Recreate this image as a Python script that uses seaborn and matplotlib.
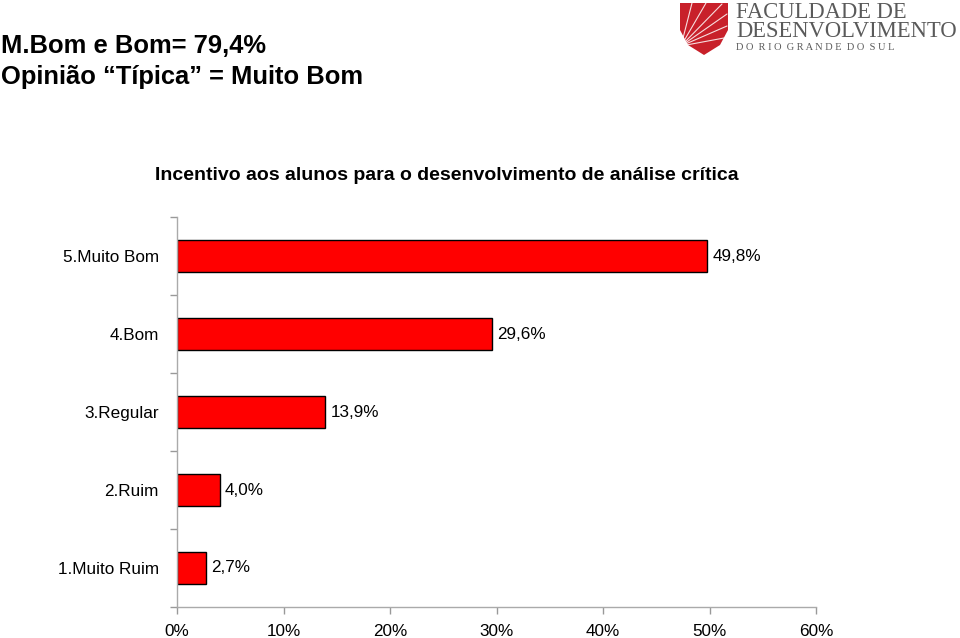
import matplotlib
matplotlib.use("Agg")
import matplotlib.pyplot as plt
import seaborn as sns
import pandas as pd
from matplotlib.patches import Polygon
from matplotlib.lines import Line2D
from matplotlib.ticker import FixedLocator

categories = ["5.Muito Bom", "4.Bom", "3.Regular", "2.Ruim", "1.Muito Ruim"]
values = [49.8, 29.6, 13.9, 4.0, 2.7]
xticks = [0, 10, 20, 30, 40, 50, 60]
title = "Incentivo aos alunos para o desenvolvimento de análise crítica"
header1 = "M.Bom e Bom= 79,4%"
header2 = "Opinião \u201cTípica\u201d = Muito Bom"

df = pd.DataFrame({"cat": categories, "val": values})

sns.set_style("white")
plt.rcParams["font.family"] = ["Liberation Sans", "DejaVu Sans"]
plt.rcParams["text.color"] = "black"
plt.rcParams["xtick.color"] = "#999999"
plt.rcParams["ytick.color"] = "#999999"
plt.rcParams["xtick.labelcolor"] = "black"
plt.rcParams["ytick.labelcolor"] = "black"

fig = plt.figure(figsize=(9.6, 6.38), dpi=100)
ax = fig.add_axes([177/960, 1-607/638, (816-177)/960, (607-217)/638])

sns.barplot(data=df, x="val", y="cat", orient="h", color="#FF0000",
            edgecolor="black", linewidth=1.0, width=0.41, ax=ax, saturation=1)

ax.set_xlim(0, 60)
ax.set_ylim(4.5, -0.5)
ax.set_xticks(xticks)
ax.set_xticklabels([f"{t}%" for t in xticks], fontsize=12.3)
ax.set_xlabel("")
ax.set_ylabel("")
ax.tick_params(axis="y", which="major", length=0, labelsize=12.3, pad=13, left=True)
ax.yaxis.set_minor_locator(FixedLocator([-0.5, 0.5, 1.5, 2.5, 3.5, 4.5]))
ax.tick_params(axis="y", which="minor", length=5, width=1, direction="out", left=True)
ax.tick_params(axis="x", which="major", length=5, width=1, direction="out", pad=7, bottom=True)

for s in ["top", "right"]:
    ax.spines[s].set_visible(False)
for s in ["left", "bottom"]:
    ax.spines[s].set_color("#AAAAAA")
    ax.spines[s].set_linewidth(1.0)

for i, v in enumerate(values):
    ax.text(v + 0.5, i, f"{v:.1f}%".replace(".", ","), va="center", ha="left", fontsize=12.3)

fig.text(447/960, 1-176/638, title, ha="center", va="center", fontsize=14, fontweight="bold")
fig.text(1/960, 1-46/638, header1, ha="left", va="center", fontsize=18.4, fontweight="bold")
fig.text(1/960, 1-77/638, header2, ha="left", va="center", fontsize=18.4, fontweight="bold")

# Logo
def fx(px):
    return px / 960
def fy(py):
    return 1 - py / 638

shield = Polygon([(fx(680), fy(3)), (fx(728), fy(3)), (fx(728), fy(30)),
                  (fx(720), fy(45)), (fx(704), fy(55)), (fx(688), fy(45)),
                  (fx(680), fy(30))], closed=True, transform=fig.transFigure,
                 facecolor="#C8202A", edgecolor="none")
fig.patches.append(shield)
for (ex, ey) in [(692, 3), (706, 3), (722, 4), (727, 14), (727, 26), (724, 38)]:
    fig.lines.append(Line2D([fx(681), fx(ex)], [fy(46), fy(ey)], transform=fig.transFigure,
                            color="white", linewidth=0.8, alpha=0.85))
fig.text(fx(736), fy(2), "FACULDADE DE\nDESENVOLVIMENTO", ha="left", va="top", fontsize=16.3,
         family="Liberation Serif", color="#5A5A5A", linespacing=0.9)
fig.text(fx(736), fy(47), "D O  R I O  G R A N D E  D O  S U L", ha="left", va="center", fontsize=7.5,
         family="Liberation Serif", color="#5A5A5A")

fig.savefig("out.png", dpi=100)
